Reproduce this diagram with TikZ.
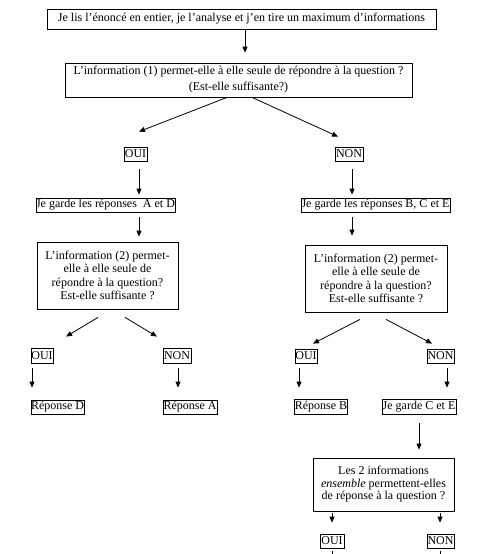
\documentclass[tikz,border=0pt]{standalone}
\usepackage{fontspec}
\setmainfont{Liberation Serif}
\usetikzlibrary{calc,arrows.meta}

\begin{document}
\begin{tikzpicture}[>={Triangle[length=6pt,width=5pt]},x=1pt,y=-1pt,line width=0.8pt,
	box/.style={draw,inner sep=0pt,align=center,font=\fontsize{12}{13.5}\selectfont}]

\useasboundingbox (0,0) rectangle (490,554);

\node [box,minimum width=389pt,minimum height=20pt] at (241.5,19) (top) {Je lis l’énoncé en entier, je l’analyse et j’en tire un maximum d’informations};
\node [box,minimum width=347pt,minimum height=34pt,font=\fontsize{12}{16}\selectfont] at (238.5,80) (q1) {L’information (1) permet-elle à elle seule de répondre à la question ?\\(Est-elle suffisante?)};

\node [box,minimum width=23pt,minimum height=14pt] at (135.5,154) (oui1) {OUI};
\node [box,minimum width=28pt,minimum height=14pt] at (349,154) (non1) {NON};

\node [box,minimum width=137pt,minimum height=14pt] at (105.5,205) (gardeAD) {Je garde les réponses \ A et D};
\node [box,minimum width=149pt,minimum height=14pt] at (375.5,205) (gardeBCE) {Je garde les réponses B, C et E};

\node [box,minimum width=141pt,minimum height=67pt] at (107.5,275.5) (q2l) {L’information (2) permet-\\elle à elle seule de\\répondre à la question?\\Est-elle suffisante ?};
\node [box,minimum width=142pt,minimum height=67pt] at (376,278.5) (q2r) {L’information (2) permet-\\elle à elle seule de\\répondre à la question?\\Est-elle suffisante ?};

\node [box,minimum width=22pt,minimum height=15pt] at (42,355.5) (oui2) {OUI};
\node [box,minimum width=28pt,minimum height=15pt] at (177,355.5) (non2) {NON};
\node [box,minimum width=22pt,minimum height=14pt] at (306,356) (oui3) {OUI};
\node [box,minimum width=27pt,minimum height=14pt] at (440.5,356) (non3) {NON};

\node [box,minimum width=53pt,minimum height=14pt] at (57.5,407) (repD) {Réponse D};
\node [box,minimum width=54pt,minimum height=14pt] at (190,407) (repA) {Réponse A};
\node [box,minimum width=52pt,minimum height=15pt] at (321,406.5) (repB) {Réponse B};
\node [box,minimum width=74pt,minimum height=15pt] at (419,406.5) (gardeCE) {Je garde C et E};

\node [box,minimum width=141pt,minimum height=53pt,font=\fontsize{12}{12.5}\selectfont] at (383.5,484.5) (q3) {Les 2 informations\\\emph{ensemble} permettent-elles\\de réponse à la question ?};

\node [box,minimum width=24pt,minimum height=14pt] at (332,541) (oui4) {OUI};
\node [box,minimum width=27pt,minimum height=14pt] at (440.5,541) (non4) {NON};

\coordinate (bas) at (245,556);

%%%%%%%%%%%%%%%%%%%%%%%%%%%%%%%%%%%%%%%%%%%%%%%%%%%%%%%%%%%%%%%%

\draw [->] ($(top.south)+(3.5,0)$) -- ($(q1.north)+(6.5,-10)$);
\draw [->] ($(q1.south)+(-11.5,0)$) -- ($(oui1.north)+(3.5,-15)$);
\draw [->] ($(q1.south)+(13.5,0)$) -- ($(non1.north)+(-11,-10)$);

\draw [->] ($(oui1.south)+(3.5,8)$) -- ($(gardeAD.north)+(33.5,-3)$);
\draw [->] ($(gardeAD.south)+(33.5,5)$) -- ($(q2l.north)+(31.5,-5)$);
\draw [->] ($(non1.south)+(3,8)$) -- ($(gardeBCE.north)+(-23.5,-3)$);
\draw [->] ($(gardeBCE.south)+(-23.5,5)$) -- ($(q2r.north)+(-24,-9)$);

\draw [->] ($(q2l.south)+(-9.5,8)$) -- ($(oui2.north)+(24,-11)$);
\draw [->] ($(q2l.south)+(17.5,8)$) -- ($(non2.north)+(-20,-11)$);
\draw [->] ($(q2r.south)+(-16,7)$) -- ($(oui3.north)+(7,-5)$);
\draw [->] ($(q2r.south)+(10,7)$) -- ($(non3.north)+(-8.5,-5)$);

%%%%%%%%%%%%%%%%%%%%%%%%%%%%%%%%%%%%%%%%%%%%%%%%%%%%%%%%%%%%%%%%

\draw [->] ($(oui2.south)+(-10,5)$) -- ($(repD.north)+(-25.5,-12)$);
\draw [->] ($(non2.south)+(1,5)$) -- ($(repA.north)+(-12,-12)$);
\draw [->] ($(oui3.south)+(-7,5)$) -- ($(repB.north)+(-22,-11)$);
\draw [->] ($(non3.south)+(6.5,5)$) -- ($(gardeCE.north)+(28,-11)$);

\draw [->] ($(gardeCE.south)+(0,9)$) -- ($(q3.north)+(35.5,-8)$);
\draw [->] ($(q3.south)+(-51.5,2)$) -- ($(oui4.north)+(0,-11)$);
\draw [->] ($(q3.south)+(56.5,2)$) -- ($(non4.north)+(-0.5,-11)$);

\draw ($(oui4.south)+(0,3)$) -- (oui4.south |- bas);
\draw ($(non4.south)+(-0.5,3)$) -- ($(non4.south |- bas)+(-0.5,0)$);

\end{tikzpicture}
\end{document}
